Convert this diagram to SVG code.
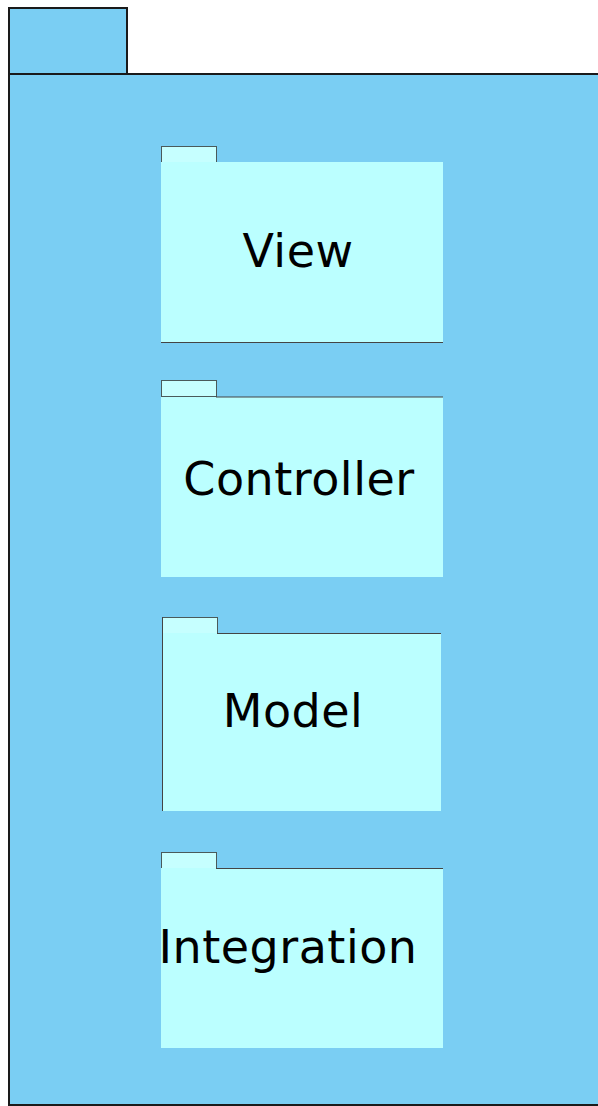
<svg xmlns="http://www.w3.org/2000/svg" width="598" height="1106" viewBox="0 0 598 1106">
  <style>
    .outer { fill: #7acef3; stroke: #1a1a1a; stroke-width: 2; }
    .tab { fill: #c6ffff; stroke: #4a5a5a; stroke-width: 1; }
    .body { fill: #bbffff; }
    .edge { stroke: #444; stroke-width: 1; fill: none; }
    .lbl { font-family: "DejaVu Sans", sans-serif; font-size: 46px; letter-spacing: 0.5px; fill: #000; text-anchor: middle; }
  </style>
  <rect width="598" height="1106" fill="#ffffff"/>
  <!-- outer package -->
  <g id="system">
    <rect class="outer" x="9" y="8" width="118" height="66"/>
    <rect class="outer" x="9" y="74" width="600" height="1031"/>
  </g>
  <g id="view">
    <rect class="tab" x="161.5" y="146.5" width="55" height="16"/>
    <rect class="body" x="161" y="162" width="282" height="180"/>
    <path class="edge" d="M161 342.5 H443"/>
    <text class="lbl" x="298" y="267">View</text>
  </g>
  <g id="controller">
    <rect class="tab" x="161.5" y="380.5" width="55" height="16"/>
    <rect class="body" x="161" y="397" width="282" height="180"/>
    <path class="edge" d="M216 397 H443"/>
    <text class="lbl" x="299" y="495">Controller</text>
  </g>
  <g id="model">
    <rect class="tab" x="162.5" y="617.5" width="55" height="16"/>
    <rect class="body" x="162" y="633" width="279" height="178"/>
    <path class="edge" d="M162.5 617 V811 M217 633.5 H441"/>
    <text class="lbl" x="293" y="727">Model</text>
  </g>
  <g id="integration">
    <rect class="tab" x="161.5" y="852.5" width="55" height="16"/>
    <rect class="body" x="161" y="868" width="282" height="180"/>
    <path class="edge" d="M216 868.5 H443"/>
    <text class="lbl" x="288" y="963">Integration</text>
  </g>
  <g id="connectors"/>
</svg>
